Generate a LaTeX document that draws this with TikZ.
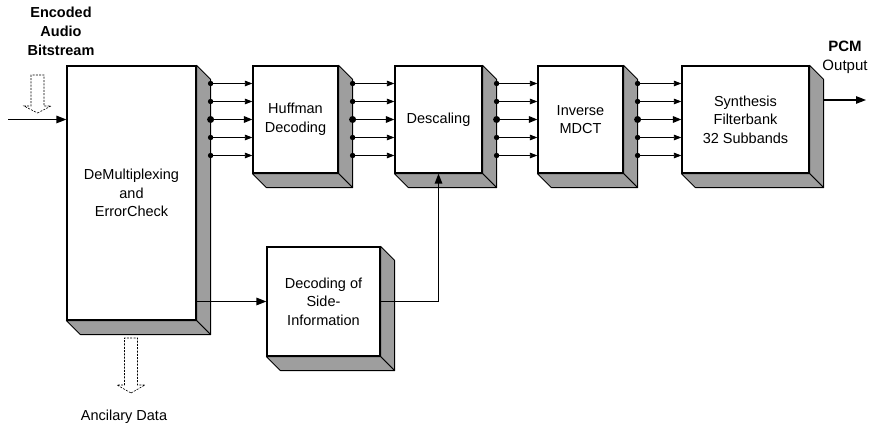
\documentclass[tikz,border=0pt]{standalone}
\usepackage{fontspec}
\setmainfont{Liberation Sans}
\usetikzlibrary{arrows.meta,calc}

\tikzset{
  blockbox/.style={draw, line width=1.2pt, fill=white, inner sep=0pt, align=center,
    font=\fontsize{14.5}{18.5}\selectfont},
  shade3d/.style={draw, line width=0.9pt, fill=black!38, line join=round},
  busline/.style={line width=0.8pt, -{Triangle[length=7.5pt,width=5.5pt]}},
  busmain/.style={line width=1.5pt, -{Triangle[length=8.5pt,width=6.5pt]}},
  flow/.style={line width=1.3pt, -{Triangle[length=10pt,width=7.5pt]}},
  hollow/.style={draw, dash pattern=on 2pt off 1.3pt, line width=0.6pt, fill=white, line join=miter},
  caption/.style={align=center, inner sep=0pt, font=\fontsize{15}{19}\selectfont},
}

\begin{document}
\begin{tikzpicture}[x=1pt, y=-1pt]
  \useasboundingbox (0,0) rectangle (870,427);

  % processing blocks (front faces)
  \node[blockbox, minimum width=129pt, minimum height=254pt] (demux) at (131.5,193)
    {DeMultiplexing\\and\\ErrorCheck};
  \node[blockbox, minimum width=85pt, minimum height=107pt] (huff) at (295.5,119.5)
    {Huffman\\Decoding};
  \node[blockbox, minimum width=87pt, minimum height=107pt] (desc) at (438.5,119.5)
    {Descaling};
  \node[blockbox, minimum width=85pt, minimum height=107pt] (imdct) at (580.5,119.5)
    {Inverse\\MDCT};
  \node[blockbox, minimum width=127pt, minimum height=107pt] (synth) at (745.5,119.5)
    {Synthesis\\Filterbank\\32 Subbands};
  \node[blockbox, minimum width=113pt, minimum height=109pt] (side) at (323.5,301.5)
    {Decoding of\\Side-\\Information};

  % extruded right and bottom faces of every block
  \foreach \b in {demux,huff,desc,imdct,synth,side} {
    \path[shade3d] (\b.north east) -- ++(14,14) -- ($(\b.south east)+(14,14)$)
      -- (\b.south east) -- cycle;
    \path[shade3d] (\b.south west) -- (\b.south east) -- ($(\b.south east)+(14,14)$)
      -- ($(\b.south west)+(14,14)$) -- cycle;
  }

  % five-line subband buses between successive blocks
  \foreach \src/\dst in {demux/huff, huff/desc, desc/imdct, imdct/synth} {
    \foreach \dy in {-36,-18,18,36} {
      \coordinate (tap) at ($(\src.east |- \dst.west)+(14,\dy)$);
      \draw[busline] (tap) -- (tap -| \dst.west);
      \fill (tap) circle (2.7pt);
    }
    \coordinate (tap) at ($(\src.east |- \dst.west)+(14,0)$);
    \draw[busmain] (tap) -- (\dst.west);
    \fill (tap) circle (3.5pt);
  }

  % bitstream input
  \coordinate (instart) at (8,119.5);
  \draw[flow] (instart) -- (instart -| demux.west);

  % side information path
  \draw[flow] (demux.east |- side.west) -- (side.west);
  \draw[flow] (side.east) -- (side.east -| desc.south) -- (desc.south);

  % PCM output
  \coordinate (outend) at (866,100);
  \draw[flow] ($(synth.east)+(14,-19.5)$) -- (outend);

  % hollow dashed arrows: incoming bitstream and ancillary data
  \coordinate (intip) at (37.5,113);
  \path[hollow] (intip) -- ++(13.5,-7) -- ++(-7,0) -- ++(0,-31) -- ++(-13,0)
    -- ++(0,31) -- ++(-7,0) -- cycle;
  \coordinate (anctip) at (131,393);
  \path[hollow] (anctip) -- ++(14,-8) -- ++(-7.5,0) -- ++(0,-47) -- ++(-13,0)
    -- ++(0,47) -- ++(-7.5,0) -- cycle;

  % captions
  \node[caption, font=\bfseries\fontsize{14.5}{19}\selectfont] (enc) at (61,31)
    {Encoded\\Audio\\Bitstream};
  \node[caption] (pcm) at (845,57) {\textbf{PCM}\\Output};
  \node[caption, font=\fontsize{14.5}{18}\selectfont] (anc) at (124,417) {Ancilary Data};
\end{tikzpicture}
\end{document}
